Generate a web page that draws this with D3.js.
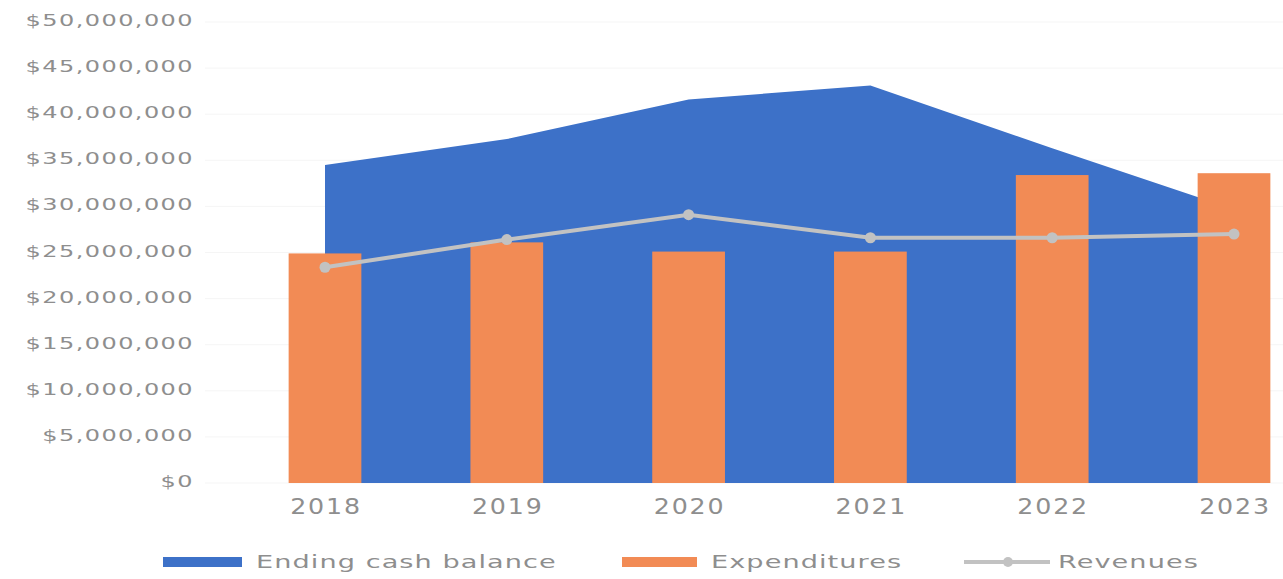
<!DOCTYPE html>
<html>
<head>
<meta charset="utf-8">
<script src="https://cdn.jsdelivr.net/npm/d3@7"></script>
<style>
  body { margin: 0; background: #fff; }
  svg { display: block; font-family: "DejaVu Sans", sans-serif; }
</style>
</head>
<body>
<div id="chart"></div>
<script>
// data
var years = ["2018", "2019", "2020", "2021", "2022", "2023"];
var cashBalance = [34500000, 37300000, 41600000, 43100000, 36300000, 29700000];
var expenditures = [24900000, 26100000, 25100000, 25100000, 33400000, 33600000];
var revenues = [23400000, 26400000, 29100000, 26600000, 26600000, 27000000];
var yTicks = [0, 5e6, 10e6, 15e6, 20e6, 25e6, 30e6, 35e6, 40e6, 45e6, 50e6];

var width = 1283, height = 579;
var blue = "#3d71c8", orange = "#f28b55", grey = "#c2c2c2", textCol = "#8e8e8e";

var svg = d3.select("#chart")
    .append("svg")
    .attr("width", width)
    .attr("height", height);

var x = d3.scalePoint().domain(years).range([325, 1234]);
var y = d3.scaleLinear().domain([0, 50000000]).range([483, 22]);
var barW = x.step() * 0.4;

var fmt = function (d) { return "$" + d3.format(",")(d); };

// stretched text helper
function label(g, tx, ty, txt, size, sx, anchor, spacing) {
    g.append("text")
        .attr("transform", "translate(" + tx + "," + ty + ") scale(" + sx + ",1)")
        .attr("text-anchor", anchor)
        .attr("font-size", size)
        .attr("letter-spacing", spacing)
        .attr("fill", textCol)
        .text(txt);
}

// gridlines (very faint)
svg.append("g")
    .selectAll("line")
    .data(yTicks)
    .enter()
    .append("line")
    .attr("x1", 205)
    .attr("x2", width)
    .attr("y1", function (d) { return y(d); })
    .attr("y2", function (d) { return y(d); })
    .attr("stroke", "#f5f5f5")
    .attr("stroke-width", 1);

// y labels
var yl = svg.append("g");
yTicks.forEach(function (t) {
    label(yl, 194, y(t) + 4, fmt(t), 15, 1.6, "end", 0.9);
});

// area
var area = d3.area()
    .x(function (d, i) { return x(years[i]); })
    .y0(y(0))
    .y1(function (d) { return y(d); });

svg.append("path")
    .datum(cashBalance)
    .attr("d", area)
    .attr("fill", blue);

// bars
svg.append("g")
    .selectAll("rect")
    .data(expenditures)
    .enter()
    .append("rect")
    .attr("x", function (d, i) { return x(years[i]) - barW / 2; })
    .attr("y", function (d) { return y(d); })
    .attr("width", barW)
    .attr("height", function (d) { return y(0) - y(d); })
    .attr("fill", orange);

// revenue line
var line = d3.line()
    .x(function (d, i) { return x(years[i]); })
    .y(function (d) { return y(d); });

svg.append("path")
    .datum(revenues)
    .attr("d", line)
    .attr("fill", "none")
    .attr("stroke", grey)
    .attr("stroke-width", 4);

svg.append("g")
    .selectAll("circle")
    .data(revenues)
    .enter()
    .append("circle")
    .attr("cx", function (d, i) { return x(years[i]); })
    .attr("cy", function (d) { return y(d); })
    .attr("r", 5.5)
    .attr("fill", grey);

// x labels
var xl = svg.append("g");
years.forEach(function (yr) {
    label(xl, x(yr) + 1, 514, yr, 22, 1.15, "middle", 1.6);
});

// legend
var lg = svg.append("g");
lg.append("rect").attr("x", 163).attr("y", 557).attr("width", 79).attr("height", 10).attr("fill", blue);
label(lg, 256, 568, "Ending cash balance", 17.5, 1.55, "start", 0.7);

lg.append("rect").attr("x", 622).attr("y", 557).attr("width", 75).attr("height", 10).attr("fill", orange);
label(lg, 711, 568, "Expenditures", 17.5, 1.55, "start", 0.7);

lg.append("line").attr("x1", 964).attr("x2", 1050).attr("y1", 562).attr("y2", 562)
    .attr("stroke", grey).attr("stroke-width", 4);
lg.append("circle").attr("cx", 1008).attr("cy", 562).attr("r", 5).attr("fill", grey);
label(lg, 1058, 568, "Revenues", 17.5, 1.55, "start", 0.7);
</script>
</body>
</html>
